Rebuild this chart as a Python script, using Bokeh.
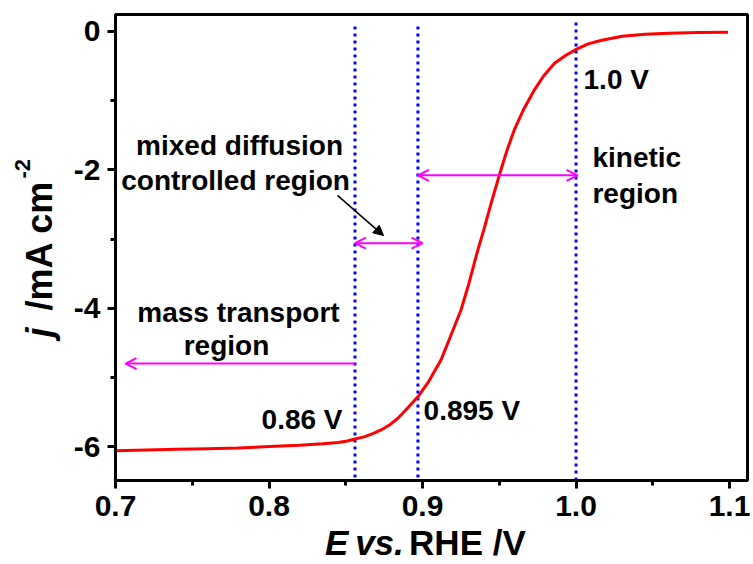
from bokeh.plotting import figure
from bokeh.layouts import row, column
from bokeh.models import (Range1d, FixedTicker, PrintfTickFormatter, Label, Arrow,
                          OpenHead, NormalHead)
from bokeh.embed import file_html
from bokeh.resources import INLINE
from math import pi

# ---- data ----
E = [0.700, 0.720, 0.740, 0.760, 0.780, 0.800, 0.820, 0.835, 0.845, 0.851,
     0.856, 0.862, 0.868, 0.873, 0.879, 0.884, 0.890, 0.897, 0.904, 0.912,
     0.918, 0.925, 0.930, 0.936, 0.940, 0.945, 0.950, 0.955, 0.960, 0.966,
     0.973, 0.979, 0.986, 0.993, 1.000, 1.008, 1.016, 1.030, 1.045, 1.060,
     1.080, 1.099]
j = [-6.06, -6.05, -6.04, -6.03, -6.02, -6.00, -5.98, -5.96, -5.94, -5.92,
     -5.89, -5.86, -5.81, -5.76, -5.68, -5.59, -5.45, -5.28, -5.06, -4.75,
     -4.42, -4.03, -3.66, -3.16, -2.86, -2.46, -2.08, -1.72, -1.41, -1.12,
     -0.84, -0.64, -0.46, -0.35, -0.26, -0.18, -0.13, -0.07, -0.04, -0.025,
     -0.015, -0.01]

x_ticks = [0.7, 0.8, 0.9, 1.0, 1.1]
x_minor = [0.75, 0.85, 0.95, 1.05]
y_ticks = [0, -2, -4, -6]
y_minor = [-1, -3, -5]

marker_E = [0.856, 0.897, 1.0]
marker_top = [0.07, 0.07, 0.13]
marker_labels = ["0.86 V", "0.895 V", "1.0 V"]

FONT = "Liberation Sans"

YSTRIP_W = 62
OVERLAP = 8
XSTRIP_H = 35 + OVERLAP
TOTAL_W, TOTAL_H = 753, 564
MAIN_W = TOTAL_W - YSTRIP_W
MAIN_H = TOTAL_H - 35

p = figure(width=MAIN_W, height=MAIN_H, output_backend="svg", toolbar_location=None,
           x_range=Range1d(0.7, 1.1117), y_range=Range1d(-6.49, 0.245),
           min_border_left=115 - YSTRIP_W, min_border_right=6, min_border_top=14,
           min_border_bottom=MAIN_H - 480)
p.grid.visible = False
p.background_fill_color = "white"
p.border_fill_color = "white"
p.outline_line_color = "black"
p.outline_line_width = 3

for ax, ticks, minor, fmt in ((p.xaxis[0], x_ticks, x_minor, "%.1f"),
                              (p.yaxis[0], y_ticks, y_minor, "%d")):
    ax.ticker = FixedTicker(ticks=ticks, minor_ticks=minor)
    ax.formatter = PrintfTickFormatter(format=fmt)
    ax.axis_line_width = 3
    ax.major_tick_line_width = 3
    ax.minor_tick_line_width = 3
    ax.major_tick_in = 0
    ax.major_tick_out = 8
    ax.minor_tick_in = 0
    ax.minor_tick_out = 5
    ax.major_label_text_font = FONT
    ax.major_label_text_font_style = "bold"
    ax.major_label_text_font_size = "30px"
    ax.major_label_text_color = "black"
    ax.major_label_standoff = 7

# vertical dotted marker lines
p.segment(x0=marker_E, y0=marker_top, x1=marker_E, y1=[-6.5] * 3,
          line_color="#0000ff", line_width=3, line_dash="3 4")

# curve
p.line(E, j, line_color="#ff0000", line_width=3)

# magenta region arrows
MAG = "#ff00ff"
def harrow(x0, x1, y, both=True):
    p.add_layout(Arrow(x_start=x0, y_start=y, x_end=x1, y_end=y,
                       line_color=MAG, line_width=2,
                       start=OpenHead(size=11, line_color=MAG, line_width=2) if both else None,
                       end=OpenHead(size=11, line_color=MAG, line_width=2)))

harrow(marker_E[0], 0.7065, -4.80, both=False)
harrow(marker_E[0], 0.900, -3.06)
harrow(marker_E[1], 1.001, -2.08)

# black pointer arrow
p.add_layout(Arrow(x_start=0.8446, y_start=-2.37, x_end=0.8746, y_end=-2.95,
                   line_color="black", line_width=1.5,
                   end=NormalHead(size=10, fill_color="black", line_color="black")))

def lab(fig, x, y, text, align="left", size="28px", style="bold", angle=0):
    fig.add_layout(Label(x=x, y=y, text=text, text_align=align,
                         text_baseline="alphabetic", text_font=FONT,
                         text_font_style=style, text_font_size=size,
                         text_color="black", angle=angle))

lab(p, 0.7808, -1.655, "mixed diffusion", align="center")
lab(p, 0.7782, -2.160, "controlled region", align="center")
lab(p, 0.7801, -4.055, "mass transport", align="center")
lab(p, 0.7723, -4.545, "region", align="center")
lab(p, 0.8479, -5.615, marker_labels[0], align="right")
lab(p, 0.9007, -5.485, marker_labels[1])
lab(p, 1.0049, -0.700, marker_labels[2])
lab(p, 1.0107, -1.828, "kinetic")
lab(p, 1.0107, -2.335, "region")

def strip(w, h):
    f = figure(width=w, height=h, output_backend="svg", toolbar_location=None,
               x_range=Range1d(0, w), y_range=Range1d(0, h),
               x_axis_type=None, y_axis_type=None, min_border=0)
    f.grid.visible = False
    f.outline_line_color = None
    f.background_fill_color = None
    f.border_fill_color = None
    return f

# x-axis title strip (pixel coordinates, y up); overlaps the main figure slightly
xs = strip(MAIN_W, XSTRIP_H)
xs.margin = (-OVERLAP, 0, 0, 0)
lab(xs, 229, 22, "E", size="35px", style="bold italic")
lab(xs, 262, 22, "vs.", size="35px", style="bold italic")
lab(xs, 321, 22, "RHE /V", size="35px")

# y-axis title strip
ys = strip(YSTRIP_W, TOTAL_H)
lab(ys, 39, TOTAL_H - 337, "j", size="36px", style="bold italic", angle=pi / 2)
lab(ys, 39, TOTAL_H - 310, "/mA cm", size="36px", angle=pi / 2)
lab(ys, 22, TOTAL_H - 178, "-2", size="22px", angle=pi / 2)

layout = row(ys, column(p, xs, spacing=0), spacing=0)

open("out.html", "w").write(file_html(layout, INLINE))
